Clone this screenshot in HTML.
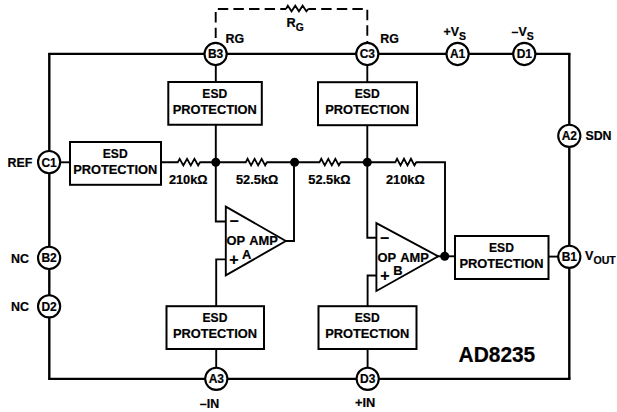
<!DOCTYPE html>
<html lang="en">
<head>
<meta charset="utf-8">
<title>AD8235 Functional Block Diagram</title>
<style>
html,body{margin:0;padding:0;background:#fff;}
body{width:617px;height:412px;overflow:hidden;}
svg{display:block;}
text{font-family:"Liberation Sans",Arial,Helvetica,sans-serif;font-weight:bold;fill:#000;stroke:#000;stroke-width:0.2px;}
.w{stroke:#000;stroke-width:1.9;fill:none;stroke-linejoin:miter;stroke-linecap:butt;}
.z{stroke:#000;stroke-width:1.8;fill:none;stroke-linejoin:miter;stroke-miterlimit:10;}
.k{stroke:#fff;stroke-width:3;fill:none;}
.oh{stroke:#000;stroke-width:2.1;fill:none;}
.ov{stroke:#000;stroke-width:2.4;fill:none;}
.t{stroke:#000;stroke-width:1.9;fill:#fff;stroke-linejoin:miter;}
.b{stroke:#000;stroke-width:2;fill:#fff;}
.p{stroke:#000;stroke-width:2.1;fill:#fff;stroke-linejoin:miter;}
.d{fill:#000;}
</style>
</head>
<body>
<svg width="617" height="412" viewBox="0 0 617 412">
<rect x="0" y="0" width="617" height="412" fill="#fff"/>
<!-- package outline -->
<path class="oh" d="M48.1 53.9 H570.5 M48.1 378.9 H570.5"/>
<path class="ov" d="M49.3 53.9 V378.9 M569.3 53.9 V378.9"/>
<!-- external gain resistor (dashed) -->
<path class="w" d="M286 9.05 H215.7 V50" stroke-dasharray="10.4 5.2" stroke-dashoffset="4.65"/>
<path class="w" d="M308.2 9.05 H367.3 V50" stroke-dasharray="10.4 5.2" stroke-dashoffset="2.6"/>
<path class="z" d="M286 9.05 L287.85 5.65 L291.55 11.25 L295.25 5.65 L298.95 11.25 L302.65 5.65 L306.35 11.25 L308.20 9.05"/>
<!-- wires -->
<path class="w" d="M215.8 53.9 V82"/>
<path class="w" d="M367.3 53.9 V82"/>
<path class="w" d="M215.8 125 V221.5 H226"/>
<path class="w" d="M367.3 125 V237.8 H377"/>
<path class="w" d="M60 162.3 H70"/>
<path class="w" d="M161 162.3 H445 V256.3"/>
<path class="w" d="M285 241 H294 V162.3"/>
<path class="w" d="M226 259.4 H216.2 V306"/>
<path class="w" d="M377 275.5 H367.6 V306"/>
<path class="w" d="M216.2 349 V367"/>
<path class="w" d="M367.6 349 V367"/>
<path class="w" d="M437 256.3 H455"/>
<path class="w" d="M548 256.6 H558"/>
<!-- resistors -->
<path class="k" d="M178.3 162.3 H199.5"/>
<path class="z" d="M177.8 162.3 L179.65 158.80 L183.35 165.40 L187.05 158.80 L190.75 165.40 L194.45 158.80 L198.15 165.40 L200.00 162.30"/>
<path class="k" d="M246.3 162.3 H266.42"/>
<path class="z" d="M245.8 162.3 L247.56 158.80 L251.08 165.40 L254.60 158.80 L258.12 165.40 L261.64 158.80 L265.16 165.40 L266.92 162.30"/>
<path class="k" d="M320 162.3 H340.12"/>
<path class="z" d="M319.5 162.3 L321.26 158.80 L324.78 165.40 L328.30 158.80 L331.82 165.40 L335.34 158.80 L338.86 165.40 L340.62 162.30"/>
<path class="k" d="M395.8 162.3 H415.68"/>
<path class="z" d="M395.3 162.3 L397.04 158.80 L400.52 165.40 L404.00 158.80 L407.48 165.40 L410.96 158.80 L414.44 165.40 L416.18 162.30"/>
<!-- junctions -->
<circle class="d" cx="215.8" cy="162.3" r="4.5"/>
<circle class="d" cx="294.6" cy="162.3" r="4.5"/>
<circle class="d" cx="367.3" cy="162.3" r="4.5"/>
<circle class="d" cx="444.7" cy="256.3" r="4.5"/>
<!-- ESD protection blocks -->
<rect class="b" x="70" y="142" width="91" height="42.8"/>
<text transform="translate(115.2 158) scale(0.94 1.05)" font-size="12.85" text-anchor="middle">ESD</text>
<text transform="translate(115.2 173.85) scale(1 1.05)" font-size="12.85" text-anchor="middle">PROTECTION</text>
<rect class="b" x="168.3" y="82" width="93.5" height="42.75"/>
<text transform="translate(214.75 98) scale(0.94 1.05)" font-size="12.85" text-anchor="middle">ESD</text>
<text transform="translate(214.75 113.85) scale(1 1.05)" font-size="12.85" text-anchor="middle">PROTECTION</text>
<rect class="b" x="318" y="82.2" width="99" height="43"/>
<text transform="translate(367.2 98.2) scale(0.94 1.05)" font-size="12.85" text-anchor="middle">ESD</text>
<text transform="translate(367.2 114.05) scale(1 1.05)" font-size="12.85" text-anchor="middle">PROTECTION</text>
<rect class="b" x="166.5" y="306.2" width="97.5" height="42.8"/>
<text transform="translate(214.95 322.2) scale(0.94 1.05)" font-size="12.85" text-anchor="middle">ESD</text>
<text transform="translate(214.95 338.05) scale(1 1.05)" font-size="12.85" text-anchor="middle">PROTECTION</text>
<rect class="b" x="318.5" y="306.2" width="98" height="42.8"/>
<text transform="translate(367.2 322.2) scale(0.94 1.05)" font-size="12.85" text-anchor="middle">ESD</text>
<text transform="translate(367.2 338.05) scale(1 1.05)" font-size="12.85" text-anchor="middle">PROTECTION</text>
<rect class="b" x="455" y="236" width="93.5" height="43"/>
<text transform="translate(501.45 252) scale(0.94 1.05)" font-size="12.85" text-anchor="middle">ESD</text>
<text transform="translate(501.45 267.85) scale(1 1.05)" font-size="12.85" text-anchor="middle">PROTECTION</text>
<!-- op amps -->
<path class="t" d="M225.8 206.6 L285.8 241 L225.8 275.4 Z"/>
<path class="t" d="M376.4 223.2 L438.2 256.3 L376.4 291 Z"/>
<text transform="translate(226.5 245.4) scale(1 1.05)" font-size="12.9" word-spacing="1.2">OP AMP</text>
<text transform="translate(242 258.6) scale(1 1.05)" font-size="12.9">A</text>
<text transform="translate(229.8 226.4) scale(1 1.05)" font-size="16">–</text>
<text transform="translate(229.3 265.2) scale(1 1.05)" font-size="16">+</text>
<text transform="translate(377.5 261.6) scale(1 1.05)" font-size="12.9" word-spacing="1.2">OP AMP</text>
<text transform="translate(393.3 274.8) scale(1 1.05)" font-size="12.9">B</text>
<text transform="translate(380.3 242.6) scale(1 1.05)" font-size="16">–</text>
<text transform="translate(380.3 281.2) scale(1 1.05)" font-size="16">+</text>
<!-- resistor values -->
<text transform="translate(168.9 183.8) scale(1 1.05)" font-size="12.8">210kΩ</text>
<text transform="translate(236 183.8) scale(1 1.05)" font-size="12.8">52.5kΩ</text>
<text transform="translate(308.3 183.8) scale(1 1.05)" font-size="12.8">52.5kΩ</text>
<text transform="translate(386 183.8) scale(1 1.05)" font-size="12.8">210kΩ</text>
<!-- pins -->
<circle class="p" cx="215.6" cy="54" r="11.1"/>
<text transform="translate(215.6 58.4) scale(1 1.05)" font-size="12" text-anchor="middle">B3</text>
<circle class="p" cx="367.3" cy="54" r="11.1"/>
<text transform="translate(367.3 58.4) scale(1 1.05)" font-size="12" text-anchor="middle">C3</text>
<circle class="p" cx="457.6" cy="54" r="11.1"/>
<text transform="translate(457.6 58.4) scale(1 1.05)" font-size="12" text-anchor="middle">A1</text>
<circle class="p" cx="524.3" cy="54" r="11.1"/>
<text transform="translate(524.3 58.4) scale(1 1.05)" font-size="12" text-anchor="middle">D1</text>
<circle class="p" cx="569.3" cy="135.8" r="11.1"/>
<text transform="translate(569.3 140.2) scale(1 1.05)" font-size="12" text-anchor="middle">A2</text>
<circle class="p" cx="569.3" cy="256.8" r="11.1"/>
<text transform="translate(569.3 261.2) scale(1 1.05)" font-size="12" text-anchor="middle">B1</text>
<circle class="p" cx="49.1" cy="162.1" r="11.1"/>
<text transform="translate(49.1 166.5) scale(1 1.05)" font-size="12" text-anchor="middle">C1</text>
<circle class="p" cx="49.1" cy="257.9" r="11.1"/>
<text transform="translate(49.1 262.3) scale(1 1.05)" font-size="12" text-anchor="middle">B2</text>
<circle class="p" cx="49.1" cy="306.3" r="11.1"/>
<text transform="translate(49.1 310.7) scale(1 1.05)" font-size="12" text-anchor="middle">D2</text>
<circle class="p" cx="216.3" cy="378.8" r="11.1"/>
<text transform="translate(216.3 383.2) scale(1 1.05)" font-size="12" text-anchor="middle">A3</text>
<circle class="p" cx="367.7" cy="378.8" r="11.1"/>
<text transform="translate(367.7 383.2) scale(1 1.05)" font-size="12" text-anchor="middle">D3</text>
<!-- pin labels -->
<text transform="translate(225.5 42.7) scale(1 1.05)" font-size="12.4">RG</text>
<text transform="translate(380.3 42.6) scale(1 1.05)" font-size="12.4">RG</text>
<text transform="translate(286.5 26.7) scale(1 1.05)" font-size="12.7">R<tspan font-size="10.3" dy="4">G</tspan></text>
<text transform="translate(443.6 35.7) scale(1 1.05)" font-size="12.4">+V<tspan font-size="10.5" dy="4">S</tspan></text>
<text transform="translate(511.5 35.5) scale(1 1.05)" font-size="12.4">–V<tspan font-size="10.5" dy="4">S</tspan></text>
<text transform="translate(585.4 140) scale(1 1.05)" font-size="12.4">SDN</text>
<text transform="translate(585 259.8) scale(1 1.05)" font-size="12.6">V<tspan font-size="10.6" dy="4">OUT</tspan></text>
<text transform="translate(7.5 166.8) scale(1 1.05)" font-size="12.4">REF</text>
<text transform="translate(11 262.7) scale(1 1.05)" font-size="12.4">NC</text>
<text transform="translate(11 310.9) scale(1 1.05)" font-size="12.4">NC</text>
<text transform="translate(199.8 407.7) scale(1 1.05)" font-size="12.4">–IN</text>
<text transform="translate(355 406.6) scale(1 1.05)" font-size="12.8">+IN</text>
<!-- part number -->
<text transform="translate(458.6 361.5) scale(1 1.03)" font-size="20.9">AD8235</text>
</svg>
</body>
</html>
